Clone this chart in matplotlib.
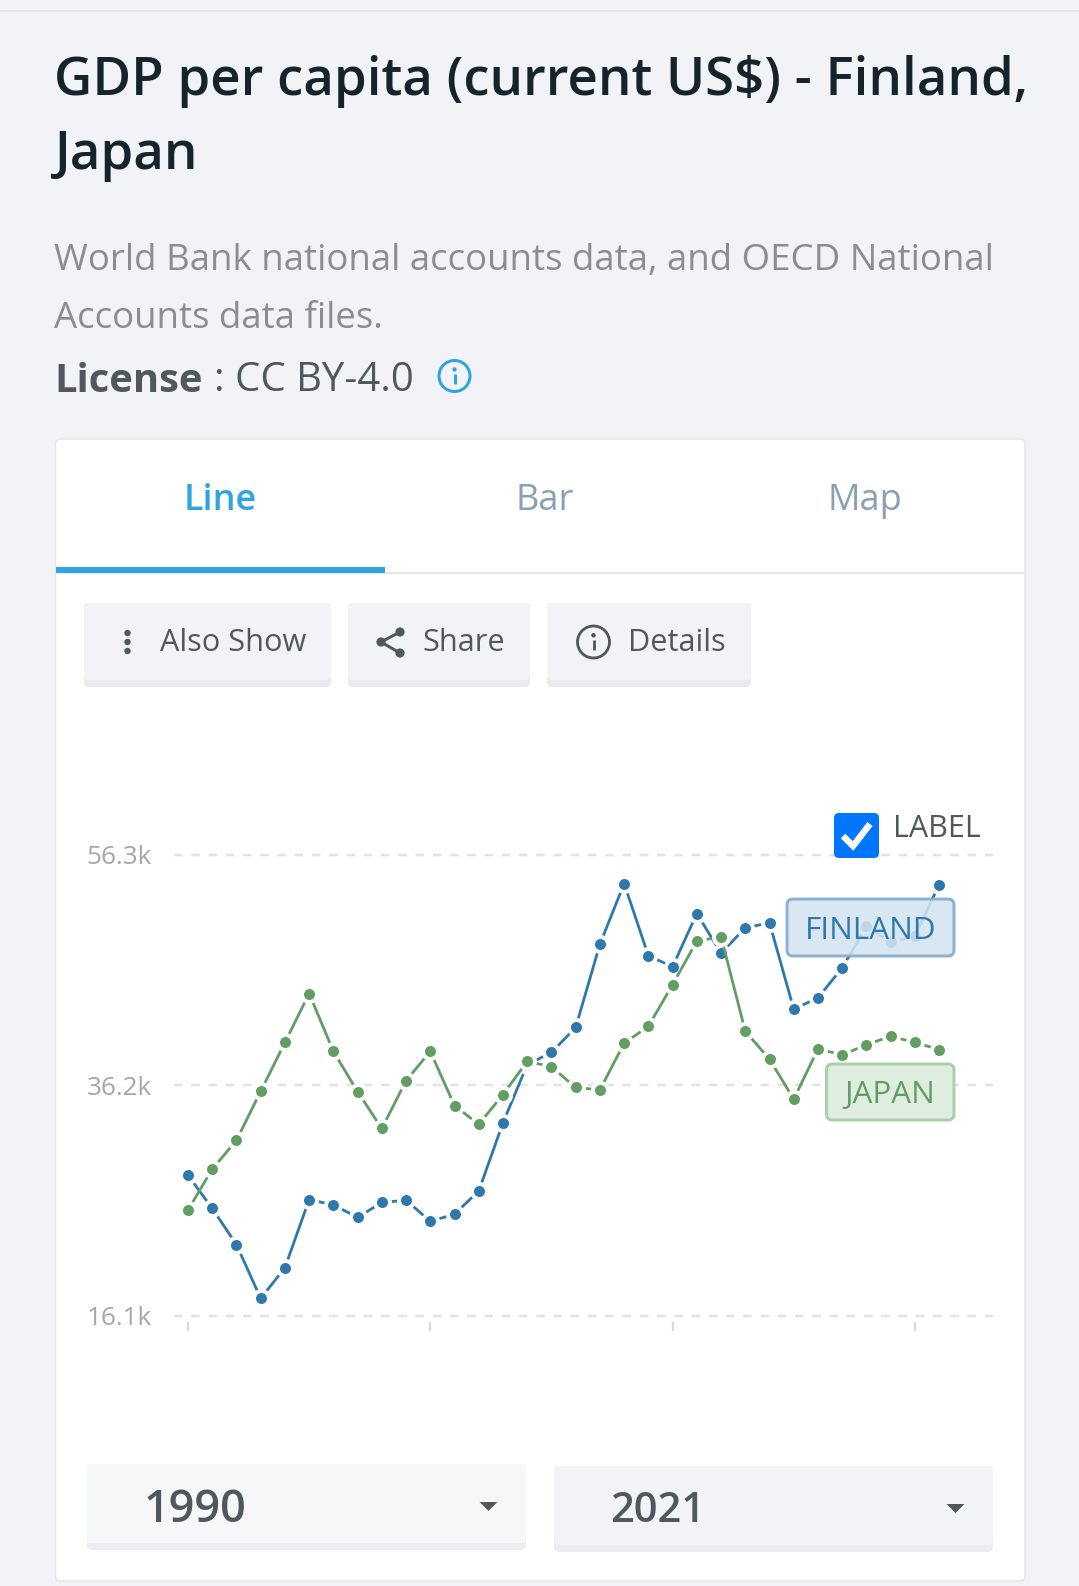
import matplotlib
matplotlib.use("Agg")
import matplotlib.pyplot as plt
from matplotlib.patches import FancyBboxPatch, Circle, Polygon, Rectangle

plt.rcParams["font.family"] = ["Open Sans", "DejaVu Sans"]

W, H = 1079, 1586
DPI = 100
PT = 72 / DPI  # points per output pixel

# GDP per capita, thousands of current US$
years = list(range(1990, 2022))
finland = [28.35, 25.45, 22.30, 17.60, 20.28, 26.23, 25.76, 24.67, 25.98, 26.17,
           24.33, 24.95, 26.98, 32.93, 38.00, 39.07, 41.25, 48.51, 53.81, 47.51,
           46.55, 51.19, 47.73, 49.94, 50.38, 42.84, 43.84, 46.45, 50.07, 48.67,
           49.23, 53.71]
japan = [25.32, 28.88, 31.40, 35.67, 39.94, 44.21, 39.16, 35.64, 32.43, 36.61,
         39.16, 34.42, 32.80, 35.39, 38.29, 37.82, 36.01, 35.80, 39.88, 41.34,
         44.99, 48.79, 49.16, 40.91, 38.48, 34.98, 39.38, 38.85, 39.75, 40.47,
         39.94, 39.32]
y_ticks = [16.1, 36.2, 56.3]
y_tick_labels = ["16.1k", "36.2k", "56.3k"]
x_ticks = [1990, 2000, 2010, 2020]
tabs = ["Line", "Bar", "Map"]
start_year, end_year = "1990", "2021"

BG = "#f1f3f7"
DARK = "#50585d"
BLUE = "#2f78ae"
GREEN = "#629e62"
SKY = "#2fa4e0"

fig = plt.figure(figsize=(W / DPI, H / DPI), dpi=DPI, facecolor=BG)


def pixel_axes(z):
    ax = fig.add_axes([0, 0, 1, 1], zorder=z)
    ax.set_xlim(0, W)
    ax.set_ylim(H, 0)
    ax.axis("off")
    return ax


page = pixel_axes(0)
top = pixel_axes(2)


def rbox(ax, x0, y0, x1, y1, face, edge="none", lw=0, r=5, z=1, alpha=None):
    p = FancyBboxPatch((x0 + r, y0 + r), x1 - x0 - 2 * r, y1 - y0 - 2 * r,
                       boxstyle=f"round,pad={r},rounding_size={r}",
                       fc=face, ec=edge, lw=lw * PT, zorder=z, alpha=alpha)
    ax.add_patch(p)
    return p


def button(x0, y0, x1, y1, face, stripe, h=7):
    rbox(page, x0, y0, x1, y1, stripe, r=5, z=2)
    rbox(page, x0, y0, x1, y1 - h, face, r=4, z=3)


def info_icon(ax, cx, cy, r, color, lw):
    ax.add_patch(Circle((cx, cy), r, fc="none", ec=color, lw=lw * PT, zorder=5))
    ax.add_patch(Circle((cx, cy - r * 0.42), r * 0.14, fc=color, ec="none", zorder=5))
    ax.plot([cx, cx], [cy - r * 0.1, cy + r * 0.5], color=color, lw=lw * PT,
            solid_capstyle="butt", zorder=5)


# page header
page.plot([0, W], [11, 11], color="#dfe2e6", lw=1.5 * PT, zorder=1)
page.text(54, 81, "GDP per capita (current US$) - Finland,", fontsize=37.95, fontweight=600,
          color="#15232d", va="center", ha="left")
page.text(54, 156, "Japan", fontsize=37.95, fontweight=600, color="#15232d", va="center", ha="left")
page.text(54, 261, "World Bank national accounts data, and OECD National", fontsize=26.4,
          color="#8a8e91", va="center", ha="left")
page.text(54, 319, "Accounts data files.", fontsize=26.4, color="#8a8e91", va="center", ha="left")
page.text(54, 381, "License", fontsize=28.7, fontweight="bold", color=DARK, va="center", ha="left")
page.text(214, 381, ": CC BY-4.0", fontsize=28.9, color=DARK, va="center", ha="left")
info_icon(page, 454.5, 376, 15.5, SKY, 3)

# card and tabs
rbox(page, 55.5, 439, 1025, 1581, "white", edge="#e3e6ea", lw=1.5, r=5, z=1)
page.plot([56, 1024], [573, 573], color="#e4e7ea", lw=2 * PT, zorder=2, solid_capstyle="butt")
page.add_patch(Rectangle((56, 567), 329, 5.5, fc=SKY, ec="none", zorder=3))
tab_x = [220.5, 545, 864.5]
tab_colors = [SKY, "#89a1b2", "#89a1b2"]
tab_weights = [600, 400, 400]
for label, x, c, w in zip(tabs, tab_x, tab_colors, tab_weights):
    page.text(x, 501, label, fontsize=26, color=c, fontweight=w, ha="center", va="center")

# toolbar buttons
button(84, 603, 331, 687, BG, "#e8eaee")
button(348, 603, 530, 687, BG, "#e8eaee")
button(547, 603, 751, 687, BG, "#e8eaee")
for x, label in [(160, "Also Show"), (422, "Share"), (628, "Details")]:
    page.text(x, 643, label, fontsize=22.1, color=DARK, ha="left", va="center", zorder=5)
for y in (633, 642, 651):
    page.add_patch(Circle((127.5, y), 3.2, fc=DARK, ec="none", zorder=5))
nodes = [(400, 632), (381, 642), (400, 653)]
page.plot([n[0] for n in nodes], [n[1] for n in nodes], color=DARK, lw=3 * PT, zorder=5)
for n in nodes:
    page.add_patch(Circle(n, 4.6, fc=DARK, ec="none", zorder=5))
info_icon(page, 593.5, 642, 16, DARK, 2.8)

# year selectors
button(87, 1464, 526, 1550, "#f6f7f9", "#ebedf0")
button(554, 1466, 993, 1552, BG, "#ebedf0")
page.text(144, 1511, start_year, fontsize=32.4, fontweight=600, color=DARK, va="center", ha="left", zorder=5)
page.text(610.5, 1511, end_year, fontsize=30, fontweight=600, color=DARK, va="center", ha="left", zorder=5)
for cx, cy in [(488.5, 1506), (955.5, 1508)]:
    page.add_patch(Polygon([(cx - 9, cy - 4), (cx + 9, cy - 4), (cx, cy + 5)], fc=DARK, ec="none", zorder=5))

# line chart: 230.5 px between gridlines, 24.23 px per year
px_per_k = 230.5 / 20.1
px_per_year = 24.23
left, right, upper, lower = 174, 993, 840, 1331
ax = fig.add_axes([left / W, 1 - lower / H, (right - left) / W, (lower - upper) / H], zorder=1)
ax.patch.set_alpha(0)
ax.set_xlim(1990 - (188 - left) / px_per_year, 1990 + (right - 188) / px_per_year)
ax.set_ylim(16.1 - (lower - 1315.6) / px_per_k, 56.3 + (855 - upper) / px_per_k)
for s in ax.spines.values():
    s.set_visible(False)
ax.set_xticks(x_ticks)
ax.set_xticklabels([])
ax.tick_params(axis="x", direction="in", length=9 * PT, width=2.2 * PT, color="#d9d9d9")
ax.set_yticks(y_ticks)
ax.set_yticklabels(y_tick_labels, fontsize=18.8, color="#a6a6a6")
ax.tick_params(axis="y", length=0, pad=22 * PT)
ax.grid(axis="y", color="#e3e3e3", lw=2.5 * PT, dashes=(3.4, 3.5), zorder=0)
ax.grid(axis="x", visible=False)
ax.set_axisbelow(True)

for values, color, z in [(finland, BLUE, 3), (japan, GREEN, 4)]:
    ax.plot(years, values, color=color, lw=2.8 * PT, zorder=z, solid_capstyle="butt")
    ax.plot(years, values, ls="none", marker="o", ms=19 * PT, mfc="white", mec="none", zorder=z)
    ax.plot(years, values, ls="none", marker="o", ms=11 * PT, mfc=color, mec="none", zorder=z)

# series labels and the label toggle sit above the lines
rbox(top, 787, 899, 954, 956, "#d4e4f1", edge="#80a9cc", lw=3, r=6, alpha=0.88)
top.text(870.5, 931, "FINLAND", fontsize=22.6, color=BLUE, ha="center", va="center", zorder=5)
rbox(top, 826.5, 1064, 954, 1120, "#dfece0", edge="#a9d0aa", lw=3, r=6)
top.text(889.5, 1095, "JAPAN", fontsize=22.6, color=GREEN, ha="center", va="center", zorder=5)

rbox(top, 834, 813, 879, 858, "#0075ff", r=5, z=3)
top.plot([843, 853, 870], [836, 846, 824], color="white", lw=6.5 * PT, zorder=5,
         solid_capstyle="butt", solid_joinstyle="miter")
top.text(893.5, 829, "LABEL", fontsize=22, color=DARK, ha="left", va="center", zorder=5)

fig.savefig("out.png", dpi=DPI, facecolor=BG)
